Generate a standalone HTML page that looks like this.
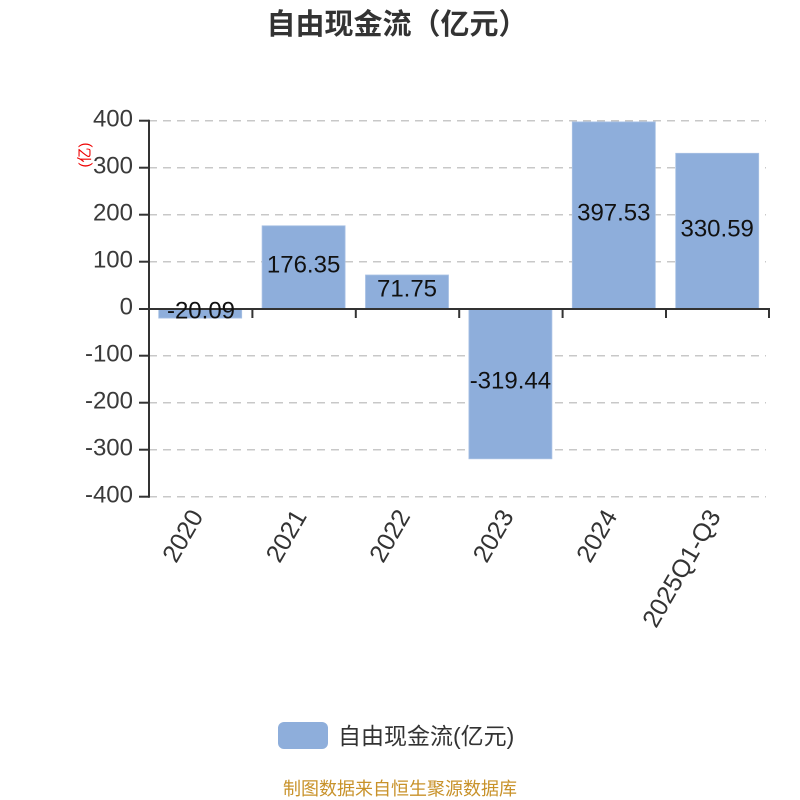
<!DOCTYPE html>
<html><head><meta charset="utf-8"><style>
html,body{margin:0;padding:0;background:#fff;}
svg{display:block;font-family:"Liberation Sans","Noto Sans CJK SC",sans-serif;}
</style></head><body>
<svg width="800" height="800" viewBox="0 0 800 800" xmlns="http://www.w3.org/2000/svg">
<rect width="800" height="800" fill="#fff"/>
<text x="397" y="34" text-anchor="middle" font-size="29" font-weight="bold" fill="#333" font-family="'Liberation Sans','Noto Sans CJK SC',sans-serif">自由现金流（亿元）</text>

<!-- grid -->
<g stroke="#c8c8c8" stroke-width="1.5" stroke-dasharray="8,6">
<line x1="149" y1="120.7" x2="766" y2="120.7"/>
<line x1="149" y1="167.7" x2="766" y2="167.7"/>
<line x1="149" y1="214.7" x2="766" y2="214.7"/>
<line x1="149" y1="261.7" x2="766" y2="261.7"/>
<line x1="149" y1="355.7" x2="766" y2="355.7"/>
<line x1="149" y1="402.7" x2="766" y2="402.7"/>
<line x1="149" y1="449.7" x2="766" y2="449.7"/>
<line x1="149" y1="496.7" x2="766" y2="496.7"/>
</g>

<!-- bars -->
<g fill="#8eaedb" stroke="#a9c1e4" stroke-width="0.8">
<rect x="158.7" y="308.7" width="83" height="9.4"/>
<rect x="262.1" y="225.8" width="83" height="82.9"/>
<rect x="365.5" y="275" width="83" height="33.7"/>
<rect x="468.9" y="308.7" width="83" height="150.1"/>
<rect x="572.3" y="121.9" width="83" height="186.8"/>
<rect x="675.7" y="153.3" width="83" height="155.4"/>
</g>

<!-- axes -->
<g stroke="#333" stroke-width="2" fill="none">
<line x1="149" y1="119.7" x2="149" y2="497.7"/>
<line x1="148" y1="309" x2="770" y2="309"/>
<line x1="139" y1="120.7" x2="149" y2="120.7"/>
<line x1="139" y1="167.7" x2="149" y2="167.7"/>
<line x1="139" y1="214.7" x2="149" y2="214.7"/>
<line x1="139" y1="261.7" x2="149" y2="261.7"/>
<line x1="139" y1="309" x2="149" y2="309"/>
<line x1="139" y1="355.7" x2="149" y2="355.7"/>
<line x1="139" y1="402.7" x2="149" y2="402.7"/>
<line x1="139" y1="449.7" x2="149" y2="449.7"/>
<line x1="139" y1="496.7" x2="149" y2="496.7"/>
<line x1="252.4" y1="309" x2="252.4" y2="318"/>
<line x1="355.8" y1="309" x2="355.8" y2="318"/>
<line x1="459.2" y1="309" x2="459.2" y2="318"/>
<line x1="562.6" y1="309" x2="562.6" y2="318"/>
<line x1="666" y1="309" x2="666" y2="318"/>
<line x1="769" y1="309" x2="769" y2="318"/>
</g>

<!-- y labels -->
<g font-size="24" fill="#3a3a3a" text-anchor="end" dominant-baseline="central">
<text x="133" y="119">400</text>
<text x="133" y="166">300</text>
<text x="133" y="213">200</text>
<text x="133" y="260">100</text>
<text x="133" y="307">0</text>
<text x="133" y="354">-100</text>
<text x="133" y="401">-200</text>
<text x="133" y="448">-300</text>
<text x="133" y="495">-400</text>
</g>

<text x="0" y="0" font-size="15" fill="#e00" text-anchor="middle" dominant-baseline="central" transform="translate(85,155) rotate(-90)">(亿)</text>

<!-- value labels -->
<g font-size="24" fill="#111" text-anchor="middle" dominant-baseline="central">
<text x="201" y="311">-20.09</text>
<text x="303.6" y="265">176.35</text>
<text x="407" y="289">71.75</text>
<text x="510.4" y="381">-319.44</text>
<text x="613.8" y="213">397.53</text>
<text x="717.2" y="229">330.59</text>
</g>

<!-- x labels -->
<g font-size="25" fill="#333" text-anchor="end" dominant-baseline="central">
<text transform="translate(197,512) rotate(-60)">2020</text>
<text transform="translate(300.5,512) rotate(-60)">2021</text>
<text transform="translate(404,512) rotate(-60)">2022</text>
<text transform="translate(507.5,512) rotate(-60)">2023</text>
<text transform="translate(611,512) rotate(-60)">2024</text>
<text transform="translate(714.5,512) rotate(-60)">2025Q1-Q3</text>
</g>

<!-- legend -->
<rect x="278" y="722" width="50" height="27" rx="6" fill="#8eaedb"/>
<text x="338" y="736" font-size="23" fill="#333" dominant-baseline="central">自由现金流(亿元)</text>

<text x="400" y="789" font-size="18" fill="#c8922a" text-anchor="middle" dominant-baseline="central">制图数据来自恒生聚源数据库</text>
</svg>
</body></html>
